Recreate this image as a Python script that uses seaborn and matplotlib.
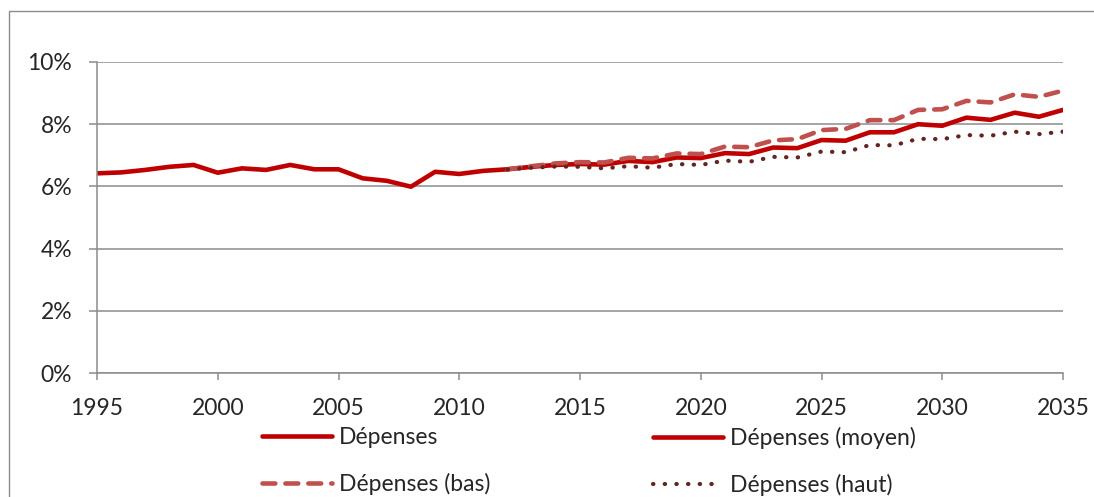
import seaborn as sns
import matplotlib.pyplot as plt
import matplotlib.patches as mpatches
from matplotlib.ticker import FuncFormatter

# ----------------------------
# Data (% of GDP)
# ----------------------------
years_hist = list(range(1995, 2013))
depenses = [6.42, 6.45, 6.53, 6.63, 6.69, 6.44, 6.58, 6.53, 6.69, 6.55,
            6.55, 6.26, 6.18, 5.99, 6.47, 6.40, 6.50, 6.55]

years_proj = list(range(2012, 2036))
depenses_moyen = [6.55, 6.63, 6.69, 6.72, 6.70, 6.82, 6.78, 6.93, 6.91, 7.07,
                  7.04, 7.25, 7.23, 7.49, 7.47, 7.74, 7.74, 8.00, 7.95, 8.21,
                  8.14, 8.37, 8.24, 8.46]
depenses_bas = [6.55, 6.65, 6.74, 6.78, 6.77, 6.92, 6.90, 7.06, 7.04, 7.28,
                7.26, 7.48, 7.52, 7.81, 7.85, 8.13, 8.13, 8.46, 8.48, 8.75,
                8.70, 8.96, 8.88, 9.08]
depenses_haut = [6.55, 6.60, 6.64, 6.63, 6.58, 6.65, 6.60, 6.72, 6.69, 6.83,
                 6.79, 6.95, 6.93, 7.12, 7.10, 7.33, 7.32, 7.53, 7.52, 7.65,
                 7.63, 7.76, 7.68, 7.76]

x_ticks = list(range(1995, 2036, 5))
y_ticks = [0, 2, 4, 6, 8, 10]

# ----------------------------
# Style
# ----------------------------
sns.set_style("white")
plt.rcParams['font.family'] = ['Lato', 'DejaVu Sans']
grey = "#8c8c8c"

fig = plt.figure(figsize=(10.94, 4.97), dpi=100)
ax = fig.add_axes([97 / 1094, 1 - 373 / 497, (1063 - 97) / 1094, (373 - 62) / 497])

sns.lineplot(x=years_hist, y=depenses, ax=ax, color="#C00000",
             label="Dépenses", legend=False)
sns.lineplot(x=years_proj, y=depenses_moyen, ax=ax, color="#C00000",
             label="Dépenses (moyen)", legend=False)
sns.lineplot(x=years_proj, y=depenses_bas, ax=ax, color="#C0504D",
             label="Dépenses (bas)", legend=False)
sns.lineplot(x=years_proj, y=depenses_haut, ax=ax, color="#632523",
             label="Dépenses (haut)", legend=False)

# seaborn ignores some line kwargs, so style the lines afterwards
lines = ax.get_lines()
for ln in lines[:2]:
    ln.set_linewidth(3.3)
    ln.set_solid_capstyle("round")
lines[2].set_linewidth(3.3)
lines[2].set_linestyle((0, (2.8, 2.2)))
lines[2].set_dash_capstyle("round")
lines[3].set_linewidth(3.0)
lines[3].set_linestyle((0, (0.1, 2.7)))
lines[3].set_dash_capstyle("round")

# Axes
ax.set_xlim(1995, 2035)
ax.set_ylim(0, 10)
ax.set_xticks(x_ticks)
ax.set_yticks(y_ticks)
ax.yaxis.set_major_formatter(FuncFormatter(lambda v, p: f"{v:.0f}%"))
ax.grid(axis="y", color=grey, linewidth=1.1)
ax.set_axisbelow(True)
for side in ["top", "right"]:
    ax.spines[side].set_visible(False)
for side in ["left", "bottom"]:
    ax.spines[side].set_color(grey)
    ax.spines[side].set_linewidth(1.1)
ax.tick_params(axis="x", direction="out", length=5, width=1.1, color=grey,
               labelsize=16.5, pad=13, bottom=True)
ax.tick_params(axis="y", direction="out", length=6, width=1.1, color=grey,
               labelsize=16.5, pad=12, left=True)
ax.set_xlabel("")
ax.set_ylabel("")

# Legend in two columns, as two separate legends
leg_kw = dict(loc="upper left", frameon=False, fontsize=16.5, handlelength=3.05,
              handletextpad=0.3, labelspacing=1.1, borderpad=0, borderaxespad=0,
              bbox_transform=fig.transFigure)
leg1 = ax.legend([lines[0], lines[2]], ["Dépenses", "Dépenses (bas)"],
                 bbox_to_anchor=(262 / 1094, 1 - 427 / 497), **leg_kw)
ax.add_artist(leg1)
ax.legend([lines[1], lines[3]], ["Dépenses (moyen)", "Dépenses (haut)"],
          bbox_to_anchor=(653 / 1094, 1 - 427 / 497), **leg_kw)

# Chart-area border (cropped on the right and bottom)
border = mpatches.Rectangle((9 / 1094, -0.2), 1.2, 1.2 - 11 / 497,
                            transform=fig.transFigure, fill=False,
                            edgecolor=grey, linewidth=1.0)
fig.patches.append(border)

plt.savefig("out.png", dpi=100)
plt.close()
